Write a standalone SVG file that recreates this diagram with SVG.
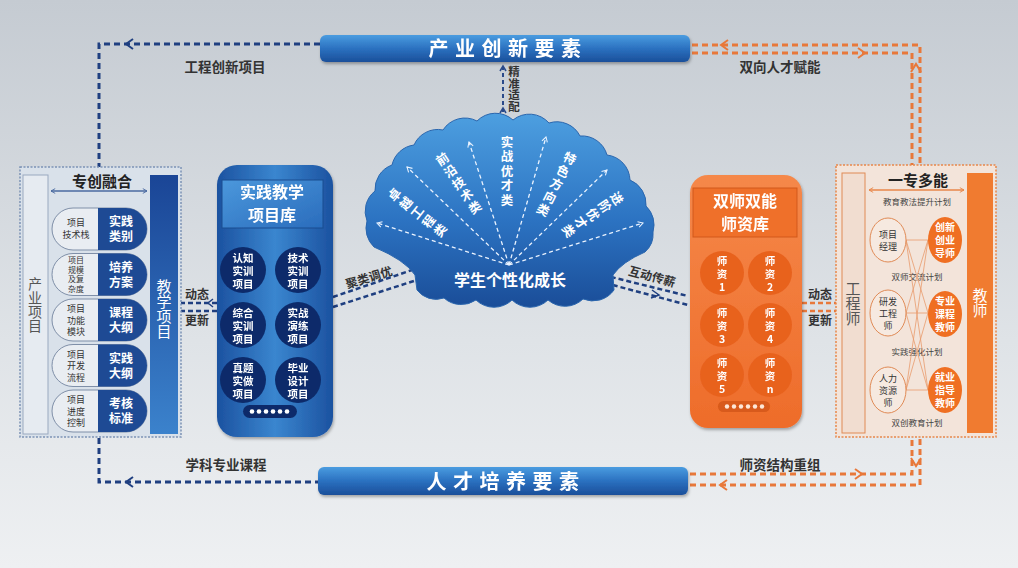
<svg xmlns="http://www.w3.org/2000/svg" width="1018" height="568" viewBox="0 0 1018 568">
<defs>
<linearGradient id="bg" x1="0" y1="0" x2="0" y2="1"><stop offset="0" stop-color="#c5cbd2"/><stop offset="0.6" stop-color="#dfe3e7"/><stop offset="1" stop-color="#eef0f2"/></linearGradient>
<linearGradient id="bar" x1="0" y1="0" x2="0" y2="1"><stop offset="0" stop-color="#4a9ce0"/><stop offset="0.5" stop-color="#2b71c0"/><stop offset="1" stop-color="#1b4f9a"/></linearGradient>
<linearGradient id="teach" x1="0" y1="0" x2="0" y2="1"><stop offset="0" stop-color="#1a4596"/><stop offset="1" stop-color="#3b82cc"/></linearGradient>
<linearGradient id="mid" x1="0" y1="0" x2="1" y2="0"><stop offset="0" stop-color="#1c52a0"/><stop offset="0.5" stop-color="#3a86cf"/><stop offset="1" stop-color="#1c52a0"/></linearGradient>
<linearGradient id="midh" x1="0" y1="0" x2="1" y2="1"><stop offset="0" stop-color="#4b98dc"/><stop offset="1" stop-color="#2a6cbc"/></linearGradient>
<linearGradient id="org" x1="0" y1="0" x2="0" y2="1"><stop offset="0" stop-color="#f5884a"/><stop offset="1" stop-color="#ee6c2a"/></linearGradient>
<linearGradient id="cloud" x1="0" y1="0" x2="0" y2="1"><stop offset="0" stop-color="#4d9fe0"/><stop offset="0.55" stop-color="#2c73c2"/><stop offset="1" stop-color="#1a4d98"/></linearGradient>
<filter id="sh" x="-10%" y="-10%" width="130%" height="140%"><feDropShadow dx="1" dy="2" stdDeviation="1.5" flood-color="#000" flood-opacity="0.3"/></filter>
<marker id="wa" viewBox="0 0 10 10" refX="8" refY="5" markerWidth="7" markerHeight="7" orient="auto" markerUnits="userSpaceOnUse"><path d="M1,1 L8,5 L1,9" fill="none" stroke="#eaf3ff" stroke-width="1.5"/></marker>
<marker id="ba" viewBox="0 0 10 10" refX="8" refY="5" markerWidth="6" markerHeight="6" orient="auto-start-reverse" markerUnits="userSpaceOnUse"><path d="M1,1 L8,5 L1,9" fill="none" stroke="#4a6aa0" stroke-width="1.5"/></marker>
<marker id="oa" viewBox="0 0 10 10" refX="8" refY="5" markerWidth="6" markerHeight="6" orient="auto-start-reverse" markerUnits="userSpaceOnUse"><path d="M1,1 L8,5 L1,9" fill="none" stroke="#e8874a" stroke-width="1.5"/></marker>
<style>
text{font-family:"Noto Sans CJK SC","Noto Sans",sans-serif;}
.lbl{font-size:13.5px;fill:#333;font-weight:700;text-anchor:middle;}
.bart{font-size:20px;fill:#fff;font-weight:700;text-anchor:middle;letter-spacing:6.5px;}
.vt{writing-mode:vertical-rl;text-anchor:middle;}
.bd{fill:none;stroke:#1f3f80;stroke-width:3;stroke-dasharray:6 4;}
.od{fill:none;stroke:#e8783a;stroke-width:3;stroke-dasharray:6 4;}
.bch{fill:none;stroke:#1f3f80;stroke-width:2;}
.och{fill:none;stroke:#e8783a;stroke-width:2;}
.pl{font-size:9px;fill:#333;text-anchor:middle;}
.pl4{font-size:8px;fill:#333;text-anchor:middle;}
.pr{font-size:12px;fill:#fff;text-anchor:middle;font-weight:700;}
.ct{font-size:10.5px;fill:#fff;text-anchor:middle;font-weight:700;}
.fan{stroke:#eaf3ff;stroke-width:1.3;stroke-dasharray:4 3;fill:none;}
.fl{font-size:12.5px;fill:#fff;font-weight:700;letter-spacing:2px;}
.small{font-size:8.5px;fill:#444;text-anchor:middle;}
.el{font-size:9px;fill:#333;text-anchor:middle;}
.er{font-size:10px;fill:#fff;text-anchor:middle;font-weight:700;}
.mid12{font-size:12px;fill:#333;font-weight:700;text-anchor:middle;}
.hd{font-size:16px;fill:#fff;font-weight:700;text-anchor:middle;}
</style>
</defs>
<rect width="1018" height="568" fill="url(#bg)"/>

<g id="connectors">
  <path class="bd" d="M320,44 H99 V167"/>
  <path class="bch" d="M133,39 L126,44 L133,49"/>
  <path class="bd" d="M99,438 V482 H318"/>
  <path class="bch" d="M133,477 L126,482 L133,487"/>
  <path class="od" d="M692,45 H920 V165"/>
  <path class="od" d="M692,53 H912 V165"/>
  <path class="och" d="M728,40 L721,45 L728,50"/>
  <path class="och" d="M858,48 L865,53 L858,58"/>
  <path class="och" d="M911,72 L916,64 L921,72"/>
  <path class="od" d="M690,474 H912 V438"/>
  <path class="od" d="M690,485 H920 V438"/>
  <path class="och" d="M855,469 L862,474 L855,479"/>
  <path class="och" d="M727,480 L720,485 L727,490"/>
  <path class="och" d="M911,458 L916,466 L921,458"/>
  <path d="M503,66 V115" fill="none" stroke="#2a4a8a" stroke-width="2" stroke-dasharray="4 3"/>
  <path d="M500,71 L503,66 L506,71" fill="none" stroke="#2a4a8a" stroke-width="1.5"/>
  <path d="M500,113 L503,108 L506,113" fill="none" stroke="#2a4a8a" stroke-width="1.5"/>
  <path d="M180,303 H217 M180,311 H217" fill="none" stroke="#1f3f80" stroke-width="2.5" stroke-dasharray="5 3"/>
  <path d="M213,299 L208,303 L213,307" fill="none" stroke="#1f3f80" stroke-width="1.5"/>
  <path d="M802,303 H838 M802,311 H838" fill="none" stroke="#e8783a" stroke-width="2.5" stroke-dasharray="5 3"/>
  <path d="M333,297 L418,268 M333,307 L420,279" fill="none" stroke="#1f3f80" stroke-width="2.5" stroke-dasharray="5 3"/>
  <path d="M603,275 L688,296 M605,283 L688,305" fill="none" stroke="#1f3f80" stroke-width="2.5" stroke-dasharray="5 3"/>
  <path d="M652,290 L659,295 L651,298" fill="none" stroke="#1f3f80" stroke-width="1.5"/>
</g>

<g id="labels">
  <text class="lbl" x="225" y="72">工程创新项目</text>
  <text class="lbl" x="780" y="72">双向人才赋能</text>
  <text class="lbl" x="226" y="470">学科专业课程</text>
  <text class="lbl" x="780" y="470">师资结构重组</text>
  <text class="vt" x="514" y="89" style="font-size:11.5px;fill:#333;font-weight:700">精准适配</text>
  <text class="mid12" x="197" y="299">动态<tspan x="197" dy="26">更新</tspan></text>
  <text class="mid12" x="820" y="299">动态<tspan x="820" dy="26">更新</tspan></text>
  <text class="mid12" x="369" y="282" transform="rotate(-17 369 278)">聚类调优</text>
  <text class="mid12" x="652" y="281" transform="rotate(15 652 277)">互动传薪</text>
</g>

<g id="top-bar" filter="url(#sh)">
  <rect x="320" y="35" width="370" height="27" rx="6" fill="url(#bar)"/>
  <text class="bart" x="508" y="56">产业创新要素</text>
</g>
<g id="bottom-bar" filter="url(#sh)">
  <rect x="318" y="467" width="370" height="28" rx="6" fill="url(#bar)"/>
  <text class="bart" x="506" y="489">人才培养要素</text>
</g>

<g id="left-panel">
  <rect x="20" y="167" width="161" height="270" fill="#d9e1ea" stroke="#7c93b5" stroke-width="1.5" stroke-dasharray="2 1.5"/>
  <rect x="23" y="175" width="25" height="259" fill="#e6ebf1" stroke="#9aa9bf"/>
  <text class="vt" x="35" y="305" style="font-size:14px;fill:#555">产业项目</text>
  <rect x="150" y="175" width="28" height="259" fill="url(#teach)"/>
  <text class="vt" x="164" y="309" style="font-size:15px;fill:#fff">教学项目</text>
  <text x="102" y="187" style="font-size:15px;fill:#222;font-weight:700" text-anchor="middle">专创融合</text>
  <path d="M51,191 H147" stroke="#4a6aa0" stroke-width="1.3" marker-start="url(#ba)" marker-end="url(#ba)"/>
  <g id="pill1">
    <rect x="52" y="208" width="95" height="42" rx="21" fill="#e9edf2" stroke="#7f8fa8"/>
    <path d="M98,208 H126 A21,21 0 0 1 126,250 H98 Z" fill="#1e4a94"/>
    <text class="pl" x="76" y="226">项目<tspan x="76" dy="12">技术栈</tspan></text>
    <text class="pr" x="121" y="226">实践<tspan x="121" dy="15">类别</tspan></text>
  </g>
  <g id="pill2">
    <rect x="52" y="253.5" width="95" height="42" rx="21" fill="#e9edf2" stroke="#7f8fa8"/>
    <path d="M98,253.5 H126 A21,21 0 0 1 126,295.5 H98 Z" fill="#1e4a94"/>
    <text class="pl4" x="76" y="263">项目<tspan x="76" dy="9.5">规模</tspan><tspan x="76" dy="9.5">及复</tspan><tspan x="76" dy="9.5">杂度</tspan></text>
    <text class="pr" x="121" y="271.5">培养<tspan x="121" dy="15">方案</tspan></text>
  </g>
  <g id="pill3">
    <rect x="52" y="299" width="95" height="42" rx="21" fill="#e9edf2" stroke="#7f8fa8"/>
    <path d="M98,299 H126 A21,21 0 0 1 126,341 H98 Z" fill="#1e4a94"/>
    <text class="pl" x="76" y="312">项目<tspan x="76" dy="11.5">功能</tspan><tspan x="76" dy="11.5">模块</tspan></text>
    <text class="pr" x="121" y="317">课程<tspan x="121" dy="15">大纲</tspan></text>
  </g>
  <g id="pill4">
    <rect x="52" y="344.5" width="95" height="42" rx="21" fill="#e9edf2" stroke="#7f8fa8"/>
    <path d="M98,344.5 H126 A21,21 0 0 1 126,386.5 H98 Z" fill="#1e4a94"/>
    <text class="pl" x="76" y="357.5">项目<tspan x="76" dy="11.5">开发</tspan><tspan x="76" dy="11.5">流程</tspan></text>
    <text class="pr" x="121" y="362.5">实践<tspan x="121" dy="15">大纲</tspan></text>
  </g>
  <g id="pill5">
    <rect x="52" y="390" width="95" height="42" rx="21" fill="#e9edf2" stroke="#7f8fa8"/>
    <path d="M98,390 H126 A21,21 0 0 1 126,432 H98 Z" fill="#1e4a94"/>
    <text class="pl" x="76" y="403">项目<tspan x="76" dy="11.5">进度</tspan><tspan x="76" dy="11.5">控制</tspan></text>
    <text class="pr" x="121" y="408">考核<tspan x="121" dy="15">标准</tspan></text>
  </g>
</g>

<g id="practice-lib" filter="url(#sh)">
  <rect x="217" y="165" width="116" height="272" rx="20" fill="url(#mid)"/>
  <rect x="222" y="180" width="101" height="48" fill="url(#midh)" stroke="#1b4c90"/>
  <text class="hd" x="272" y="198">实践教学<tspan x="272" dy="23">项目库</tspan></text>
  <g fill="#0d2c6b">
    <circle cx="243" cy="270" r="23"/><circle cx="298" cy="270" r="23"/>
    <circle cx="243" cy="325" r="23"/><circle cx="298" cy="325" r="23"/>
    <circle cx="243" cy="380" r="23"/><circle cx="298" cy="380" r="23"/>
  </g>
  <text class="ct" x="243" y="262">认知<tspan x="243" dy="13">实训</tspan><tspan x="243" dy="13">项目</tspan></text>
  <text class="ct" x="298" y="262">技术<tspan x="298" dy="13">实训</tspan><tspan x="298" dy="13">项目</tspan></text>
  <text class="ct" x="243" y="317">综合<tspan x="243" dy="13">实训</tspan><tspan x="243" dy="13">项目</tspan></text>
  <text class="ct" x="298" y="317">实战<tspan x="298" dy="13">演练</tspan><tspan x="298" dy="13">项目</tspan></text>
  <text class="ct" x="243" y="372">真题<tspan x="243" dy="13">实做</tspan><tspan x="243" dy="13">项目</tspan></text>
  <text class="ct" x="298" y="372">毕业<tspan x="298" dy="13">设计</tspan><tspan x="298" dy="13">项目</tspan></text>
  <rect x="243" y="405" width="54" height="13" rx="6.5" fill="#0d2c6b"/>
  <g fill="#fff"><circle cx="252" cy="411.5" r="2.3"/><circle cx="259" cy="411.5" r="2.3"/><circle cx="266" cy="411.5" r="2.3"/><circle cx="273" cy="411.5" r="2.3"/><circle cx="280" cy="411.5" r="2.3"/><circle cx="287" cy="411.5" r="2.3"/></g>
</g>

<g id="growth-cloud">
  <path d="M417,290 L415,275 Q405,260 374,247 A26,26 0 0 1 367,221 A26,26 0 0 1 375,191 A26,26 0 0 1 392,165 A26,26 0 0 1 414,145 A26,26 0 0 1 443,130 A26,26 0 0 1 477,121 A26,26 0 0 1 513,120 A26,26 0 0 1 549,123 A26,26 0 0 1 580,136 A26,26 0 0 1 607,155 A26,26 0 0 1 630,180 A26,26 0 0 1 646,206 A26,26 0 0 1 653,232 A24,24 0 0 1 645,252 Q622,262 613,275 L614,290 A26,26 0 0 1 583,299 A26,26 0 0 1 548,300 A26,26 0 0 1 512,300 A26,26 0 0 1 476,300 A26,26 0 0 1 444,298 A24,24 0 0 1 417,290 Z" fill="url(#cloud)" stroke="#2a66ae" stroke-width="1"/>
  <g class="fan">
    <path d="M509,265 L377,223" marker-end="url(#wa)"/>
    <path d="M509,265 L407,167" marker-end="url(#wa)"/>
    <path d="M509,265 L469,142" marker-end="url(#wa)"/>
    <path d="M509,265 L546,137" marker-end="url(#wa)"/>
    <path d="M509,265 L607,170" marker-end="url(#wa)"/>
    <path d="M509,265 L643,223" marker-end="url(#wa)"/>
  </g>
  <text class="fl vt" x="418" y="213" transform="rotate(-52 418 213)">卓越工程类</text>
  <text class="fl vt" x="459" y="184" transform="rotate(-34 459 184)">前沿技术类</text>
  <text class="fl vt" x="507" y="172">实战优才类</text>
  <text class="fl vt" x="556" y="185" transform="rotate(27 556 185)">特色方向类</text>
  <text class="fl vt" x="592" y="215" transform="rotate(56 592 215)">进阶优才类</text>
  <text x="510" y="286" style="font-size:16px;fill:#fff;font-weight:700" text-anchor="middle">学生个性化成长</text>
</g>

<g id="teacher-lib" filter="url(#sh)">
  <rect x="690" y="175" width="112" height="253" rx="18" fill="url(#org)"/>
  <rect x="693" y="188" width="104" height="49" fill="#ef6f2a" stroke="#d25a1c"/>
  <text class="hd" x="745" y="207">双师双能<tspan x="745" dy="23">师资库</tspan></text>
  <g fill="#e8621f">
    <circle cx="722" cy="273" r="22"/><circle cx="770" cy="273" r="22"/>
    <circle cx="722" cy="325" r="22"/><circle cx="770" cy="325" r="22"/>
    <circle cx="722" cy="375" r="22"/><circle cx="770" cy="375" r="22"/>
  </g>
  <text class="ct" x="722" y="265">师<tspan x="722" dy="13">资</tspan><tspan x="722" dy="13">1</tspan></text>
  <text class="ct" x="770" y="265">师<tspan x="770" dy="13">资</tspan><tspan x="770" dy="13">2</tspan></text>
  <text class="ct" x="722" y="317">师<tspan x="722" dy="13">资</tspan><tspan x="722" dy="13">3</tspan></text>
  <text class="ct" x="770" y="317">师<tspan x="770" dy="13">资</tspan><tspan x="770" dy="13">4</tspan></text>
  <text class="ct" x="722" y="367">师<tspan x="722" dy="13">资</tspan><tspan x="722" dy="13">5</tspan></text>
  <text class="ct" x="770" y="367">师<tspan x="770" dy="13">资</tspan><tspan x="770" dy="13">n</tspan></text>
  <rect x="718" y="401" width="52" height="11" rx="5.5" fill="#d85a1a"/>
  <g fill="#fde7d8"><circle cx="727" cy="406.5" r="2.2"/><circle cx="734" cy="406.5" r="2.2"/><circle cx="741" cy="406.5" r="2.2"/><circle cx="748" cy="406.5" r="2.2"/><circle cx="755" cy="406.5" r="2.2"/><circle cx="762" cy="406.5" r="2.2"/></g>
</g>

<g id="right-panel">
  <rect x="836" y="165" width="160" height="272" fill="#f3e4da" stroke="#e8874a" stroke-width="1.5" stroke-dasharray="2 1.5"/>
  <rect x="842" y="173" width="23" height="260" fill="#f1ddd0" stroke="#e08a55"/>
  <text class="vt" x="853" y="303" style="font-size:15px;fill:#555">工程师</text>
  <rect x="967" y="173" width="26" height="260" fill="#f07b30"/>
  <text class="vt" x="980" y="303" style="font-size:15px;fill:#fff">教师</text>
  <text x="918" y="186" style="font-size:15px;fill:#222;font-weight:700" text-anchor="middle">一专多能</text>
  <path d="M869,190 H964" stroke="#e8874a" stroke-width="1.3" marker-start="url(#oa)" marker-end="url(#oa)"/>
  <text class="small" x="917" y="205">教育教法提升计划</text>
  <text class="small" x="917" y="280">双师交流计划</text>
  <text class="small" x="917" y="355">实践强化计划</text>
  <text class="small" x="917" y="426">双创教育计划</text>
  <g stroke="#e99a6c" stroke-width="0.8" fill="none">
    <path d="M906,240 L928,240 M906,240 L928,313 M906,240 L928,390 M906,313 L928,240 M906,313 L928,313 M906,313 L928,390 M906,390 L928,240 M906,390 L928,313 M906,390 L928,390"/>
  </g>
  <g fill="#f6e9e0" stroke="#e08a55">
    <ellipse cx="888" cy="240" rx="18" ry="22"/>
    <ellipse cx="888" cy="313" rx="18" ry="23"/>
    <ellipse cx="888" cy="390" rx="18" ry="23"/>
  </g>
  <g fill="#ef6f22">
    <ellipse cx="945" cy="240" rx="17" ry="23"/>
    <ellipse cx="945" cy="314" rx="17" ry="23"/>
    <ellipse cx="945" cy="390" rx="17" ry="23"/>
  </g>
  <text class="el" x="888" y="238">项目<tspan x="888" dy="12">经理</tspan></text>
  <text class="el" x="888" y="305">研发<tspan x="888" dy="12">工程</tspan><tspan x="888" dy="12">师</tspan></text>
  <text class="el" x="888" y="382">人力<tspan x="888" dy="12">资源</tspan><tspan x="888" dy="12">师</tspan></text>
  <text class="er" x="945" y="231">创新<tspan x="945" dy="13">创业</tspan><tspan x="945" dy="13">导师</tspan></text>
  <text class="er" x="945" y="305">专业<tspan x="945" dy="13">课程</tspan><tspan x="945" dy="13">教师</tspan></text>
  <text class="er" x="945" y="381">就业<tspan x="945" dy="13">指导</tspan><tspan x="945" dy="13">教师</tspan></text>
</g>
</svg>
